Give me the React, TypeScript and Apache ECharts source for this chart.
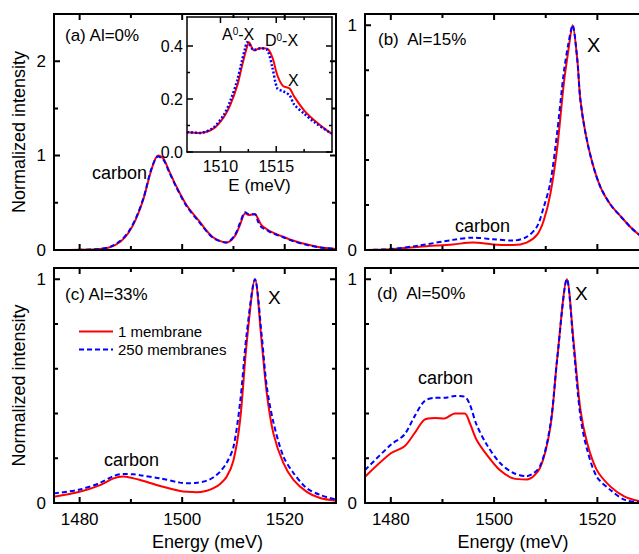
import React, { useEffect, useRef } from "react";
import * as echarts from "echarts";

// ---------- data ----------
const aEnergy = [1475, 1480, 1484, 1486, 1488, 1489.5, 1491, 1492.5, 1494, 1495.3, 1496.3, 1497.6, 1498.9, 1500.8, 1503.4, 1506, 1508.7, 1510.3, 1511.3, 1512.3, 1513, 1514.2, 1514.8, 1515.5, 1516.5, 1517.5, 1519.7, 1521.6, 1524.2, 1526.8, 1530];
const aRed = [0, 0.002, 0.01, 0.03, 0.09, 0.18, 0.33, 0.55, 0.85, 1.0, 0.97, 0.82, 0.67, 0.48, 0.3, 0.135, 0.08, 0.15, 0.27, 0.39, 0.37, 0.38, 0.33, 0.26, 0.22, 0.19, 0.14, 0.1, 0.06, 0.03, 0.01];
const aBlue = [0, 0.002, 0.012, 0.035, 0.1, 0.19, 0.34, 0.56, 0.86, 0.99, 0.96, 0.81, 0.66, 0.47, 0.29, 0.13, 0.08, 0.16, 0.29, 0.4, 0.38, 0.38, 0.3, 0.24, 0.21, 0.18, 0.135, 0.095, 0.055, 0.028, 0.01];

const insetEnergy = [1507, 1508.15, 1509.36, 1510.3, 1510.9, 1511.5, 1511.9, 1512.2, 1512.4, 1512.55, 1513, 1513.6, 1514.2, 1514.65, 1515.1, 1515.6, 1516.2, 1516.6, 1517.5, 1518.4, 1519.75, 1520];
const insetRed = [0.075, 0.072, 0.088, 0.132, 0.18, 0.25, 0.32, 0.37, 0.4, 0.415, 0.384, 0.392, 0.39, 0.358, 0.29, 0.25, 0.24, 0.21, 0.157, 0.12, 0.075, 0.07];
const insetBlue = [0.075, 0.072, 0.092, 0.14, 0.195, 0.27, 0.34, 0.39, 0.415, 0.41, 0.385, 0.392, 0.385, 0.32, 0.24, 0.23, 0.214, 0.18, 0.145, 0.113, 0.075, 0.07];

const bEnergy = [1475, 1480, 1485.5, 1492, 1495.9, 1499.8, 1503.7, 1506.3, 1508.3, 1509.6, 1510.9, 1512.2, 1513.5, 1514.4, 1515.2, 1516.1, 1516.7, 1517.7, 1519, 1520.6, 1522.6, 1524.5, 1526.5, 1528.2, 1530];
const bRed = [0, 0.003, 0.015, 0.025, 0.033, 0.025, 0.022, 0.033, 0.067, 0.13, 0.25, 0.45, 0.74, 0.89, 1.0, 0.85, 0.67, 0.52, 0.39, 0.28, 0.2, 0.15, 0.1, 0.067, 0.05];
const bBlue = [0, 0.004, 0.02, 0.045, 0.055, 0.048, 0.042, 0.058, 0.104, 0.19, 0.3, 0.52, 0.79, 0.92, 1.0, 0.85, 0.67, 0.52, 0.39, 0.28, 0.2, 0.15, 0.1, 0.067, 0.05];

const cEnergy = [1475, 1480, 1484, 1486.6, 1488.5, 1490.5, 1491.8, 1495.7, 1499.6, 1501, 1502.8, 1504.8, 1506.1, 1507.4, 1508.7, 1510, 1511.3, 1512.6, 1514.2, 1515.5, 1516.5, 1517.8, 1519.7, 1521.7, 1524.3, 1526.9, 1530];
const cRed = [0.028, 0.05, 0.08, 0.11, 0.118, 0.11, 0.103, 0.076, 0.054, 0.05, 0.048, 0.055, 0.066, 0.085, 0.118, 0.19, 0.37, 0.72, 1.0, 0.72, 0.49, 0.31, 0.18, 0.103, 0.05, 0.022, 0.01];
const cBlue = [0.043, 0.06, 0.09, 0.12, 0.13, 0.128, 0.124, 0.11, 0.091, 0.088, 0.09, 0.1, 0.115, 0.14, 0.18, 0.25, 0.45, 0.76, 1.0, 0.75, 0.52, 0.36, 0.21, 0.134, 0.066, 0.036, 0.015];

const dEnergy = [1475, 1480, 1482.6, 1484.6, 1486.5, 1488.5, 1490.4, 1492.4, 1494.3, 1495.3, 1496.6, 1498.6, 1501.1, 1503.7, 1506.3, 1508.9, 1510.9, 1512.2, 1514.1, 1515.4, 1516.7, 1518, 1519.9, 1522.6, 1525.2, 1528.2, 1530];
const dRed = [0.117, 0.222, 0.252, 0.312, 0.372, 0.38, 0.378, 0.4, 0.4, 0.357, 0.283, 0.215, 0.147, 0.11, 0.105, 0.157, 0.34, 0.64, 1.0, 0.72, 0.42, 0.27, 0.147, 0.072, 0.03, 0.008, 0.004];
const dBlue = [0.147, 0.26, 0.305, 0.387, 0.455, 0.47, 0.47, 0.478, 0.475, 0.44, 0.35, 0.26, 0.18, 0.135, 0.12, 0.165, 0.35, 0.64, 1.0, 0.7, 0.39, 0.24, 0.117, 0.057, 0.015, 0.003, 0.002];

// tick values / labels
const mainXMajor = [1480, 1500, 1520];
const mainXMinor = [1490, 1510];
const insetXMajor = [1510, 1515];
const insetXMinor = [1512.5, 1517.5];
const aYMajor = [0, 1, 2];
const aYMinor = [0.5, 1.5];
const unitYMajor = [0, 1];
const unitYMinor = [0.2, 0.4, 0.6, 0.8];
const insetYMajor = [0, 0.2, 0.4];
const insetYMinor = [0.1, 0.3];

const seriesNames = ["1 membrane", "250 membranes"];

const FONT = "'Liberation Sans', Arial, Helvetica, sans-serif";
const RED = "#ff0000";
const BLUE = "#0000ff";

function buildOption() {
  const panels: any[] = [
    {
      grid: { left: 54, top: 14, width: 282, height: 236 },
      xMin: 1475, xMax: 1530, yMin: 0, yMax: 2.5,
      xMajor: mainXMajor, xMinor: mainXMinor, xLabels: [],
      yMajor: aYMajor, yMinor: aYMinor, yLabels: aYMajor,
      yName: "Normalized intensity",
      energy: aEnergy, red: aRed, blue: aBlue,
      font: 17, lw: 2, blueType: [5, 3], majorLen: 6, minorLen: 4, yMargin: 8, xMargin: 8,
    },
    {
      grid: { left: 365, top: 14, width: 284, height: 236 },
      xMin: 1475, xMax: 1530, yMin: 0, yMax: 1.05,
      xMajor: mainXMajor, xMinor: mainXMinor, xLabels: [],
      yMajor: unitYMajor, yMinor: unitYMinor, yLabels: unitYMajor,
      energy: bEnergy, red: bRed, blue: bBlue,
      font: 17, lw: 2, blueType: [5, 3], majorLen: 6, minorLen: 4, yMargin: 8, xMargin: 8,
    },
    {
      grid: { left: 54, top: 268, width: 282, height: 235 },
      xMin: 1475, xMax: 1530, yMin: 0, yMax: 1.05,
      xMajor: mainXMajor, xMinor: mainXMinor, xLabels: mainXMajor,
      yMajor: unitYMajor, yMinor: unitYMinor, yLabels: unitYMajor,
      yName: "Normalized intensity", xName: "Energy (meV)", xNamePad: 25, xNameGap: 30,
      energy: cEnergy, red: cRed, blue: cBlue,
      font: 17, lw: 2, blueType: [5, 3], majorLen: 6, minorLen: 4, yMargin: 8, xMargin: 8,
    },
    {
      grid: { left: 365, top: 268, width: 284, height: 235 },
      xMin: 1475, xMax: 1530, yMin: 0, yMax: 1.05,
      xMajor: mainXMajor, xMinor: mainXMinor, xLabels: mainXMajor,
      yMajor: unitYMajor, yMinor: unitYMinor, yLabels: unitYMajor,
      xName: "Energy (meV)", xNamePad: 12, xNameGap: 30,
      energy: dEnergy, red: dRed, blue: dBlue,
      font: 17, lw: 2, blueType: [5, 3], majorLen: 6, minorLen: 4, yMargin: 8, xMargin: 8,
    },
    {
      grid: { left: 187, top: 17, width: 145, height: 135 },
      xMin: 1507, xMax: 1520, yMin: 0, yMax: 0.51,
      xMajor: insetXMajor, xMinor: insetXMinor, xLabels: insetXMajor,
      yMajor: insetYMajor, yMinor: insetYMinor, yLabels: insetYMajor,
      xName: "E (meV)", xNamePad: 0, xNameGap: 25,
      energy: insetEnergy, red: insetRed, blue: insetBlue,
      font: 16, lw: 1.5, blueType: [2, 2], majorLen: 6, minorLen: 3,
      labelFmt: (v: number) => v.toFixed(1), yMargin: 4, xMargin: 6,
    },
  ];

  const grids: any[] = [];
  const xAxes: any[] = [];
  const yAxes: any[] = [];
  const series: any[] = [];
  const tickSeries: any[] = [];

  panels.forEach((p, gi) => {
    grids.push({ ...p.grid, outerBoundsMode: "none", containLabel: false, show: gi === 4, backgroundColor: "#fff", borderWidth: 0, z: 3 });
    const line = { show: true, onZero: false, lineStyle: { color: "#000", width: p.lw } };
    const labelStyle = { color: "#000", fontSize: p.font, fontFamily: FONT };
    const xBase = { gridIndex: gi, type: "value", min: p.xMin, max: p.xMax, splitLine: { show: false }, axisTick: { show: false }, z: 5 };
    const yBase = { gridIndex: gi, type: "value", min: p.yMin, max: p.yMax, splitLine: { show: false }, axisTick: { show: false }, z: 5 };
    const xBottom: any = {
      ...xBase, position: "bottom", axisLine: line,
      axisLabel: p.xLabels.length
        ? { show: true, customValues: p.xLabels, margin: p.xMargin, ...labelStyle, formatter: (v: number) => String(v) }
        : { show: false },
    };
    if (p.xName) {
      Object.assign(xBottom, {
        name: p.xName, nameLocation: "middle", nameGap: p.xNameGap || 30,
        nameTextStyle: { color: "#000", fontSize: p.font + 1, fontFamily: FONT, padding: [0, 0, 0, p.xNamePad || 0] },
      });
    }
    xAxes.push(xBottom);
    xAxes.push({ ...xBase, position: "top", axisLine: line, axisLabel: { show: false } });
    const yLeft: any = {
      ...yBase, position: "left", axisLine: line,
      axisLabel: {
        show: true, customValues: p.yLabels, margin: p.yMargin, ...labelStyle,
        formatter: p.labelFmt ? (v: number) => p.labelFmt(v) : (v: number) => String(Math.round(v)),
      },
    };
    if (p.yName) {
      Object.assign(yLeft, {
        name: p.yName, nameLocation: "middle", nameGap: 26, nameRotate: 90,
        nameTextStyle: { color: "#000", fontSize: 18, fontFamily: FONT },
      });
    }
    yAxes.push(yLeft);
    yAxes.push({ ...yBase, position: "right", axisLine: line, axisLabel: { show: false } });

    const common = {
      type: "line", xAxisIndex: gi * 2, yAxisIndex: gi * 2, showSymbol: false, symbol: "none",
      smooth: 0.3, clip: true, z: 4, silent: true,
    };
    series.push({
      ...common, name: seriesNames[0],
      data: p.energy.map((e: number, i: number) => [e, p.red[i]]),
      lineStyle: { color: RED, width: 2, type: "solid" }, itemStyle: { color: RED },
    });
    series.push({
      ...common, name: seriesNames[1],
      data: p.energy.map((e: number, i: number) => [e, p.blue[i]]),
      lineStyle: { color: BLUE, width: gi === 4 ? 2.5 : 2, type: p.blueType }, itemStyle: { color: BLUE },
    });

    // tick marks on all four sides: short segments placed through the axes' scales
    const dyPerPx = (p.yMax - p.yMin) / p.grid.height;
    const dxPerPx = (p.xMax - p.xMin) / p.grid.width;
    const gap: any[] = ["-", "-"];
    const tickData: any[] = [];
    const addX = (v: number, len: number) => {
      tickData.push([v, p.yMin], [v, p.yMin + len * dyPerPx], gap);
      tickData.push([v, p.yMax], [v, p.yMax - len * dyPerPx], gap);
    };
    const addY = (v: number, len: number) => {
      tickData.push([p.xMin, v], [p.xMin + len * dxPerPx, v], gap);
      tickData.push([p.xMax, v], [p.xMax - len * dxPerPx, v], gap);
    };
    p.xMajor.forEach((v: number) => addX(v, p.majorLen));
    p.xMinor.forEach((v: number) => addX(v, p.minorLen));
    p.yMajor.forEach((v: number) => addY(v, p.majorLen));
    p.yMinor.forEach((v: number) => addY(v, p.minorLen));
    tickSeries.push({
      type: "line", xAxisIndex: gi * 2, yAxisIndex: gi * 2, showSymbol: false, symbol: "none",
      connectNulls: false, smooth: false, clip: false, z: 6, silent: true,
      data: tickData,
      lineStyle: { color: "#000", width: p.lw, type: "solid", cap: "butt" },
      itemStyle: { color: "#000" },
    });
  });

  const txt = (text: string, x: number, y: number, size: number, extra: any = {}) => ({
    type: "text", x, y, z: 10,
    style: { text, fill: "#000", fontSize: size, fontFamily: FONT, align: "left", verticalAlign: "middle", ...extra },
  });
  const sup = { rich: { s: { fontSize: 10, fontFamily: FONT, fill: "#000", verticalAlign: "top", padding: [0, 0, 6, 0] } } };

  return {
    animation: false,
    grid: grids,
    xAxis: xAxes,
    yAxis: yAxes,
    series: [...series, ...tickSeries],
    legend: {
      data: seriesNames, left: 73, top: 319, orient: "vertical",
      itemWidth: 34, itemHeight: 1, itemGap: 3, selectedMode: false,
      textStyle: { color: "#000", fontSize: 15, fontFamily: FONT },
    },
    graphic: [
      txt("(a) Al=0%", 65, 35, 17),
      txt("(b)  Al=15%", 378, 39, 17),
      txt("(c) Al=33%", 65, 294, 17),
      txt("(d)  Al=50%", 377, 293, 17),
      txt("carbon", 92, 173, 18),
      txt("carbon", 455, 226, 18),
      txt("carbon", 104, 460, 18),
      txt("carbon", 418, 378, 18),
      txt("X", 587, 45, 20),
      txt("X", 268, 297, 19),
      txt("X", 575, 293, 19),
      txt("A{s|0}-X", 222, 34, 16, sup),
      txt("D{s|0}-X", 265, 40, 16, sup),
      txt("X", 288, 80, 16),
    ],
  };
}

export default function App() {
  const ref = useRef<HTMLDivElement>(null);
  useEffect(() => {
    if (!ref.current) return;
    const chart = echarts.init(ref.current, null, { renderer: "svg" });
    chart.setOption(buildOption() as any);
    return () => chart.dispose();
  }, []);
  return (
    <div
      ref={ref}
      style={{ position: "absolute", left: 0, top: 0, width: 639, height: 554, background: "#fff", overflow: "hidden" }}
    />
  );
}
